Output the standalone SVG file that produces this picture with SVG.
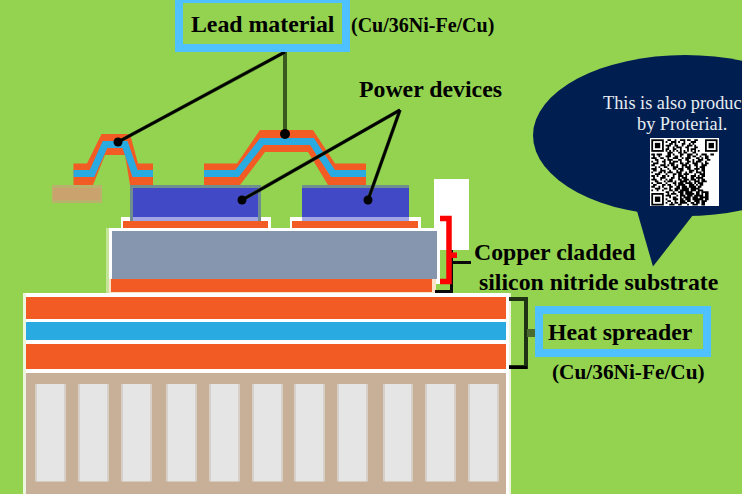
<svg xmlns="http://www.w3.org/2000/svg" width="742" height="494" viewBox="0 0 742 494">
<style>
.t{font-family:"Liberation Serif","Times New Roman",serif;font-weight:bold;fill:#000;font-size:23.800px}
.c{font-size:21.300px}
.w{font-family:"Liberation Serif","Times New Roman",serif;font-size:18.300px;fill:#E8EDF3}
.o{fill:#F35B25}.b{fill:#29ABE2}.wh{fill:#fff}.pale{fill:#EDF5DF}
.fin{fill:url(#finfill)}
.lb{fill:none;stroke:#29ABE2;stroke-width:7;stroke-linejoin:miter}
.box{fill:none;stroke:#4FC1FF;stroke-width:8}
.die{fill:#4149C6}.dt{fill:#6E8F8D}.dl{fill:#A1A5E3}
.ln{fill:none;stroke:#000;stroke-width:2.600}
.lu{fill:none;stroke:#3B5A20;stroke-width:3.600}
.br{fill:none;stroke:#0a0a0a;stroke-width:3}
.nib{fill:#4A6A30}
.qf{fill:none;stroke:#000;stroke-width:1}
</style>
<defs>
<linearGradient id="finfill" x1="0" y1="0" x2="1" y2="0">
<stop offset="0" stop-color="#D6D0C8"/><stop offset=".06" stop-color="#D6D0C8"/><stop offset=".06" stop-color="#E5E5E5"/><stop offset=".94" stop-color="#E5E5E5"/><stop offset=".94" stop-color="#D6D0C8"/><stop offset="1" stop-color="#D6D0C8"/>
</linearGradient>
</defs>
<rect width="742" height="494" fill="#93D350"/>

<g id="heat-spreader-base">
<rect class="pale" x="23" y="293" width="3" height="201"/>
<rect class="pale" x="509" y="293" width="2" height="201"/>
<rect class="wh" x="26" y="293" width="483" height="201"/>
<rect class="o" x="26" y="297" width="480" height="22"/>
<rect class="b" x="26" y="322" width="480" height="18"/>
<rect class="o" x="26" y="344" width="480" height="25"/>
<rect x="26" y="373" width="480" height="121" fill="#C7B097"/>
<g>
<rect class="fin" x="35" y="384" width="31" height="97.500"/>
<rect class="fin" x="78" y="384" width="31" height="97.500"/>
<rect class="fin" x="121" y="384" width="31" height="97.500"/>
<rect class="fin" x="166" y="384" width="31" height="97.500"/>
<rect class="fin" x="209" y="384" width="31" height="97.500"/>
<rect class="fin" x="252" y="384" width="31" height="97.500"/>
<rect class="fin" x="294" y="384" width="31" height="97.500"/>
<rect class="fin" x="337" y="384" width="31" height="97.500"/>
<rect class="fin" x="383" y="384" width="30" height="97.500"/>
<rect class="fin" x="425" y="384" width="31" height="97.500"/>
<rect class="fin" x="468" y="384" width="31" height="97.500"/>
</g>
</g>

<g id="substrate">
<rect x="434" y="179" width="35" height="71" fill="#fff"/>
<rect class="wh" x="434" y="250" width="6" height="34"/>
<rect x="106" y="228" width="3" height="65" fill="#C5E59B"/>
<rect class="wh" x="109" y="228" width="331" height="52"/>
<rect x="109" y="279" width="327" height="14" fill="#FBE3C8"/>
<rect x="112" y="231" width="325" height="48" fill="#8696AE"/>
<rect class="o" x="111" y="279" width="321" height="13"/>
</g>

<g id="power-device-1">
<rect class="wh" x="121" y="217" width="150" height="11"/>
<rect class="o" x="123" y="221" width="145" height="7"/>
<rect class="dt" x="130" y="185" width="131" height="36"/>
<rect class="die" x="133" y="188" width="125" height="29"/>
<rect class="dl" x="133" y="217" width="125" height="4"/>
</g>
<g id="power-device-2">
<rect class="wh" x="290" y="217" width="131" height="11"/>
<rect class="o" x="292" y="221" width="126" height="7"/>
<rect class="dt" x="302" y="185" width="107" height="3"/>
<rect class="die" x="302" y="188" width="107" height="29"/>
<rect class="dl" x="302" y="217" width="107" height="4"/>
</g>

<g id="lead-left">
<rect x="52" y="185" width="50" height="18" fill="#B9B16C"/>
<rect x="53" y="188" width="47" height="12" fill="#C9A26E"/>
<polygon class="o" points="73.500,163.500 87,163.500 101.500,134 130,134 138,163.500 153,163.500 153,185 130,185 125,155 105,155 93,185 73.500,185"/>
<polyline class="lb" points="73.500,173.500 92,173.500 105,144.500 125,144.500 135,173.500 153,173.500"/>
</g>
<g id="lead-middle">
<polygon class="o" points="204,163.500 237,163.500 260,130 313,130 335,163.500 366,163.500 366,185 328,185 308,152 265,152 240,185 204,185"/>
<polyline class="lb" points="204,173.500 237,173.500 262,141.500 312,141.500 333,173.500 366,173.500"/>
</g>

<g id="connectors">
<line x1="285" y1="51" x2="285" y2="134" stroke="#3B5A20" stroke-width="4"/>
<line class="lu" x1="285" y1="52" x2="118" y2="142"/>
<line class="lu" x1="400" y1="110" x2="242" y2="200"/>
<line class="lu" x1="400" y1="110" x2="368" y2="200"/>
<line class="ln" x1="285" y1="52" x2="118" y2="142"/>
<line class="ln" x1="400" y1="110" x2="242" y2="200"/>
<line class="ln" x1="400" y1="110" x2="368" y2="200"/>
<circle cx="285" cy="134" r="5"/>
<circle cx="118" cy="142" r="4.500"/>
<circle cx="242" cy="200" r="4.500"/>
<circle cx="368" cy="200" r="4.500"/>
<path class="br" d="M435 291.500H451.500V250"/>
<path class="br" d="M453 262.500H471"/>
<path fill="none" stroke="#1F3314" stroke-width="4" d="M509 299H526V367H509"/>
<path fill="none" stroke="#000" stroke-width="3" d="M509 367.500H527"/>
<rect class="nib" x="527" y="329" width="8" height="8"/>
<path fill="none" stroke="#fd0000" stroke-width="5.500" d="M440 218.500H449V281.500H440"/>
<rect x="451" y="252.500" width="6" height="5.500" fill="#fd0000"/>
</g>

<g id="lead-material-label">
<rect class="box" x="179" y="-1" width="167" height="49"/>
<text class="t" x="191" y="32">Lead material</text>
<text class="t" x="351" y="32" style="font-size:20px">(Cu/36Ni-Fe/Cu)</text>
</g>
<g id="power-devices-label">
<text class="t" x="359" y="97">Power devices</text>
</g>
<g id="substrate-label">
<text class="t" x="474" y="260">Copper cladded</text>
<text class="t" x="479" y="290">silicon nitride substrate</text>
</g>
<g id="heat-spreader-label">
<rect class="box" x="539" y="310" width="168" height="43"/>
<text class="t" x="548" y="340">Heat spreader</text>
<text class="t c" x="552" y="379">(Cu/36Ni-Fe/Cu)</text>
</g>

<g id="callout">
<ellipse cx="685" cy="135.500" rx="152" ry="80.500" fill="#001F50"/>
<polygon points="637,211 653,266.500 693,215" fill="#001F50"/>
<text class="w" x="603" y="109">This is also produc</text>
<text class="w" x="637" y="130">by Proterial.</text>
<rect x="650" y="138" width="69" height="68" fill="#fff"/>
<g transform="translate(651.300,139.300) scale(1.79)">
<rect class="qf" x=".5" y=".5" width="6" height="6"/><rect x="2" y="2" width="3" height="3"/>
<rect class="qf" x="30.500" y=".5" width="6" height="6"/><rect x="32" y="2" width="3" height="3"/>
<rect class="qf" x=".5" y="30.500" width="6" height="6"/><rect x="2" y="32" width="3" height="3"/>
<path class="qf" d="M9 .5h2m2 0h1m2 0h3m1 0h2m2 0h2M8 1.500h1m2 0h3m1 0h1m2 0h1m3 0h3M10 2.500h2m1 0h1m3 0h2m2 0h1m1 0h1M8 3.500h3m2 0h2m2 0h1m2 0h3m1 0h1M9 4.500h1m2 0h1m1 0h3m2 0h2m3 0h2M8 5.500h2m2 0h2m2 0h1m3 0h1m1 0h3M8 6.500h1m1 0h1m1 0h1m1 0h1m1 0h1m1 0h1m1 0h1m1 0h1m1 0h1m1 0h1M9 7.500h3m3 0h2m1 0h2m3 0h2
M0 8.500h2m1 0h3m3 0h2m1 0h1m3 0h2m2 0h3m2 0h1m2 0h3m2 0h2
M1 9.500h1m2 0h1m3 0h3m2 0h2m1 0h1m3 0h2m1 0h2m2 0h1m2 0h2
M0 10.500h3m2 0h2m2 0h1m2 0h3m2 0h1m1 0h3m3 0h2m1 0h1m1 0h2
M2 11.500h2m3 0h1m1 0h3m3 0h2m2 0h2m2 0h1m2 0h3m2 0h2
M0 12.500h1m2 0h1m2 0h2m2 0h1m1 0h3m1 0h1m3 0h2m1 0h1m1 0h3m2 0h1
M1 13.500h3m3 0h1m2 0h3m3 0h2m1 0h2m2 0h3m2 0h1m1 0h2
M0 14.500h2m3 0h3m1 0h1m1 0h2m1 0h1m2 0h3m1 0h1m2 0h2m2 0h3
M2 15.500h1m1 0h1m2 0h2m3 0h3m2 0h1m1 0h3m3 0h1m1 0h3
M0 16.500h3m2 0h1m3 0h1m2 0h2m1 0h3m2 0h2m2 0h3m1 0h2
M1 17.500h2m2 0h3m2 0h1m3 0h1m1 0h2m3 0h3m1 0h1m2 0h2
M0 18.500h1m3 0h2m1 0h1m1 0h3m2 0h3m2 0h1m1 0h2m2 0h3m1 0h1
M2 19.500h3m3 0h1m3 0h2m1 0h2m1 0h3m3 0h1m2 0h3
M0 20.500h2m1 0h1m2 0h2m1 0h1m2 0h1m2 0h3m1 0h1m2 0h3m1 0h1m1 0h2
M1 21.500h1m3 0h3m3 0h2m2 0h1m1 0h3m2 0h2m1 0h4
M0 22.500h3m2 0h1m2 0h1m1 0h2m3 0h2m1 0h3m1 0h3m1 0h1m1 0h2
M2 23.500h2m3 0h1m1 0h3m1 0h1m2 0h4m1 0h1m2 0h3m1 0h3
M0 24.500h1m2 0h3m2 0h1m3 0h2m1 0h3m1 0h4m1 0h1m1 0h3
M1 25.500h2m3 0h2m1 0h2m2 0h1m1 0h4m2 0h3m1 0h1m1 0h2
M0 26.500h2m2 0h1m1 0h1m3 0h2m2 0h2m1 0h3m1 0h4m1 0h2
M2 27.500h3m2 0h2m1 0h1m2 0h3m1 0h4m1 0h5
M0 28.500h1m2 0h1m2 0h1m3 0h2m1 0h2m1 0h5m1 0h3m1 0h3
M8 29.500h2m2 0h1m2 0h3m1 0h4m2 0h2m1 0h4
M9 30.500h1m1 0h3m2 0h2m1 0h5m1 0h2m1 0h1m1 0h2
M8 31.500h3m3 0h1m1 0h3m1 0h3m1 0h5m1 0h2
M10 32.500h1m1 0h2m2 0h1m1 0h4m1 0h3m1 0h5
M8 33.500h1m3 0h3m1 0h2m1 0h3m1 0h6m1 0h2
M9 34.500h2m2 0h1m2 0h3m1 0h2m2 0h3m1 0h3
M8 35.500h1m2 0h1m1 0h2m1 0h4m2 0h2m1 0h2m1 0h2
M10 36.500h3m2 0h2m3 0h1m2 0h3m2 0h2"/>
</g>
</g>
</svg>
